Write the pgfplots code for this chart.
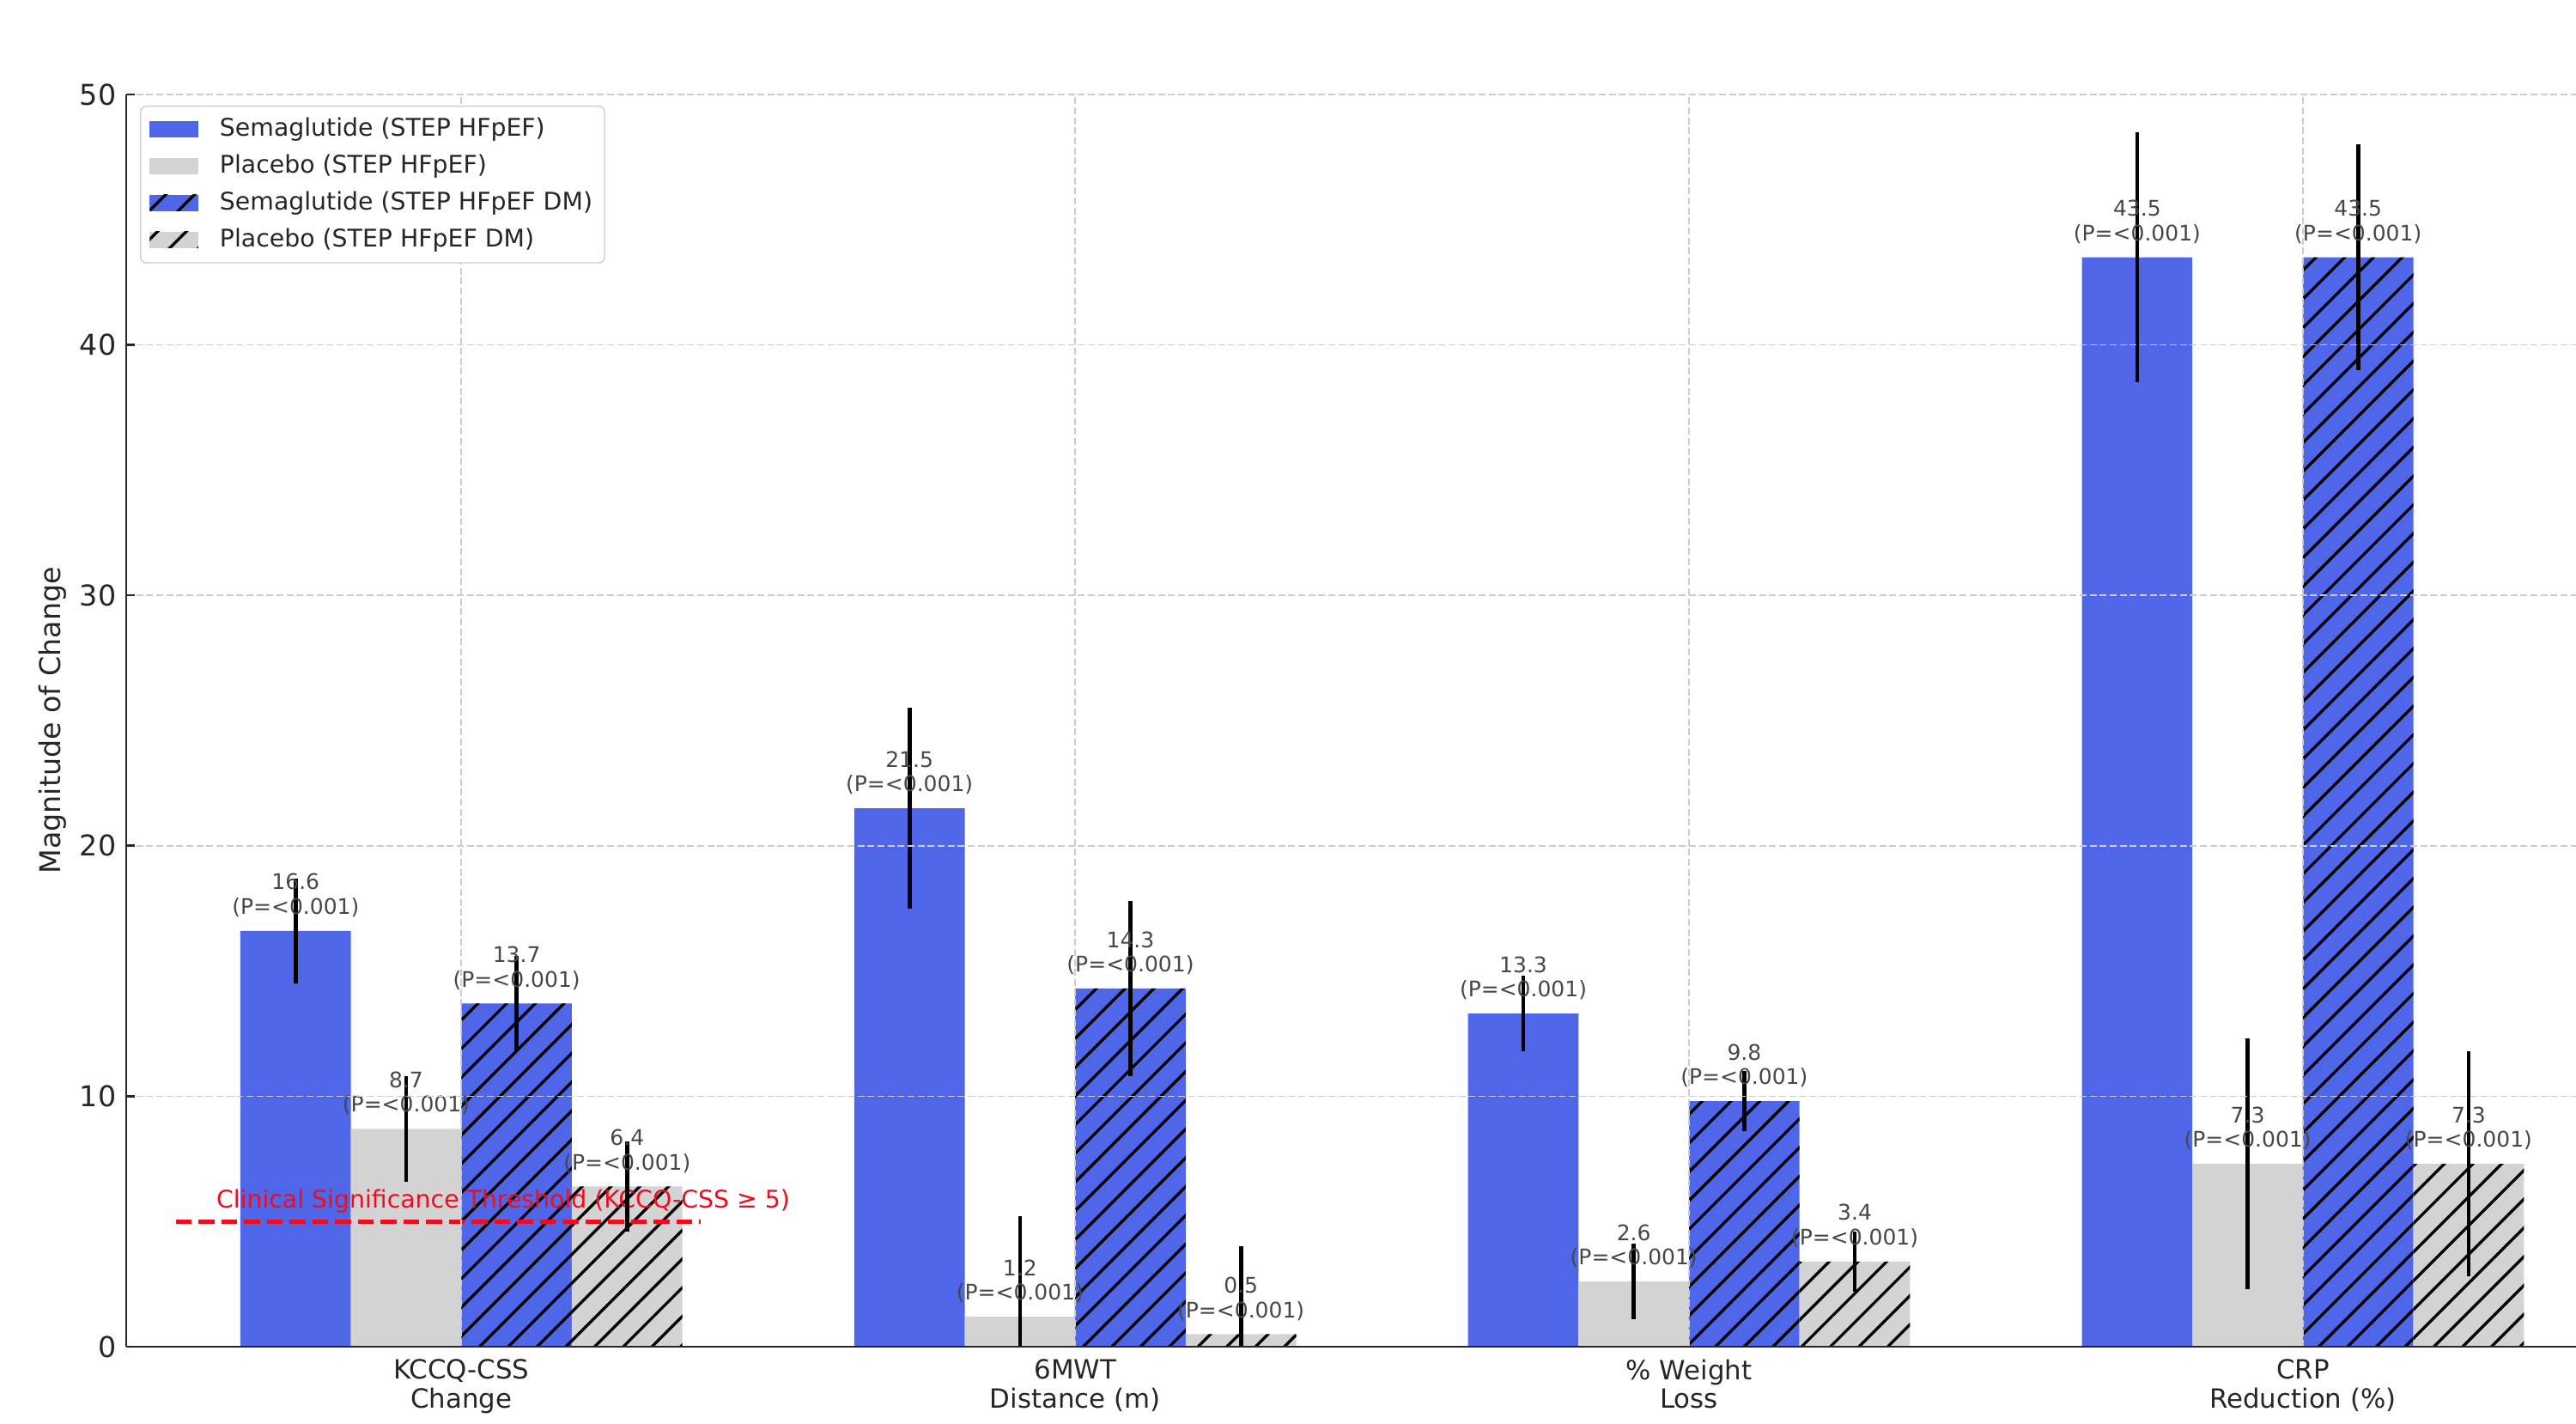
\documentclass[border=0pt]{standalone}
\usepackage{fontspec}
\setmainfont{DejaVu Sans}
\usepackage{pgfplots}
\pgfplotsset{compat=1.18}
\usepackage{pgfplotstable}
\usetikzlibrary{patterns.meta}
\definecolor{semablue}{RGB}{79,102,232}
\definecolor{plgray}{RGB}{211,211,211}
\definecolor{thr}{RGB}{238,12,32}

% x = category index + offset, y = value, e = error half-width
\pgfplotstableread{
x y e
-0.27 16.6 2.1
0.73 21.5 4.0
1.73 13.3 1.5
2.73 43.5 5.0
}\semaA
\pgfplotstableread{
x y e
-0.09 8.7 2.1
0.91 1.2 4.0
1.91 2.6 1.5
2.91 7.3 5.0
}\placA
\pgfplotstableread{
x y e
0.09 13.7 1.9
1.09 14.3 3.5
2.09 9.8 1.2
3.09 43.5 4.5
}\semaB
\pgfplotstableread{
x y e
0.27 6.4 1.8
1.27 0.5 3.5
2.27 3.4 1.2
3.27 7.3 4.5
}\placB

\pgfplotsset{
  mybar/.style={ybar, bar width=0.18, bar shift=0pt, draw=none,
    legend image code/.code={\draw[##1, draw=none, sharp corners] (0pt,-2.9pt) rectangle (17pt,2.9pt);}},
  hatch/.style={postaction={pattern={Lines[angle=45,distance=7.1pt,line width=1pt]}, pattern color=black}},
  nomark/.style={only marks, mark=*, mark size=0pt, mark options={draw=none, fill=none}},
  errs/.style={forget plot, nomark,
    error bars/.cd, y dir=both, y explicit, error mark=none,
    error bar style={draw=black, solid, line width=1.4pt}},
  labs/.style={forget plot, nomark,
    point meta=y,
    nodes near coords={\pgfmathprintnumber[fixed,precision=1]{\pgfplotspointmeta}\\(P=<0.001)},
    every node near coord/.append style={anchor=south, align=center, inner sep=0pt, yshift=4.6pt,
      font=\fontsize{7.5}{8.6}\selectfont, text=black!72}},
}

\begin{document}
\begin{tikzpicture}
\begin{axis}[
  name=ax, at={(0pt,0pt)}, anchor=south west,
  scale only axis, width=855.9pt, height=437.4pt,
  xmin=-0.546, xmax=3.445, ymin=0, ymax=50,
  axis x line*=bottom, axis y line*=left,
  axis line style={-, black!85, line width=0.8pt},
  set layers, axis on top,
  xmajorgrids, ymajorgrids,
  grid style={/pgfplots/on layer=axis background, gray!40, line width=0.5pt, dash pattern=on 2.4pt off 1.1pt},
  xtick={0,1,2,3},
  xticklabels={{KCCQ-CSS\\Change},{6MWT\\Distance (m)},{\% Weight\\Loss},{CRP\\Reduction (\%)}},
  xtick style={draw=none},
  ytick={0,10,20,30,40,50},
  ytick style={black!85, line width=0.8pt},
  tick align=inside, major tick length=3pt,
  /pgf/number format/assume math mode=true,
  yticklabel style={font=\fontsize{10}{12}\selectfont, text=black!85},
  xticklabel style={font=\fontsize{9.25}{10}\selectfont, align=center, text=black!85, yshift=-1pt},
  ylabel={Magnitude of Change},
  ylabel style={at={(axis description cs:-0.0301,0.5)}, anchor=center, font=\fontsize{10}{12}\selectfont, text=black!85},
  legend cell align=left,
  legend style={at={(0,1)}, anchor=north west, xshift=4.8pt, yshift=-3.9pt,
    draw=black!20, rounded corners=2pt, fill=white,
    font=\fontsize{8.5}{10}\selectfont, text=black!85,
    inner xsep=3.2pt, inner ysep=3pt, row sep=2.9pt, column sep=6.5pt,
    nodes={inner sep=1pt, text height=6.5pt, text depth=1.5pt}},
]
\addplot[mybar, fill=semablue] table[x=x,y=y] {\semaA};
\addlegendentry{Semaglutide (STEP HFpEF)}
\addplot[mybar, fill=plgray] table[x=x,y=y] {\placA};
\addlegendentry{Placebo (STEP HFpEF)}
\addplot[mybar, fill=semablue, hatch] table[x=x,y=y] {\semaB};
\addlegendentry{Semaglutide (STEP HFpEF DM)}
\addplot[mybar, fill=plgray, hatch] table[x=x,y=y] {\placB};
\addlegendentry{Placebo (STEP HFpEF DM)}

\addplot[forget plot, thr, line width=1.5pt, dash pattern=on 5.55pt off 2.4pt] coordinates {(-0.465,5) (0.39,5)};
\node[anchor=south west, inner sep=0pt, text=thr, font=\fontsize{8.5}{10}\selectfont] at (axis cs:-0.4,5.3) {Clinical Significance Threshold (KCCQ-CSS ≥ 5)};

\addplot[labs] table[x=x,y=y] {\semaA};
\addplot[labs] table[x=x,y=y] {\placA};
\addplot[labs] table[x=x,y=y] {\semaB};
\addplot[labs] table[x=x,y=y] {\placB};

\addplot[errs] table[x=x,y=y,y error=e] {\semaA};
\addplot[errs] table[x=x,y=y,y error=e] {\placA};
\addplot[errs] table[x=x,y=y,y error=e] {\semaB};
\addplot[errs] table[x=x,y=y,y error=e] {\placB};
\end{axis}
\pgfresetboundingbox
\path[use as bounding box] ([xshift=-44.1pt,yshift=-27pt]ax.south west) rectangle ([yshift=33pt]ax.north east);
\end{tikzpicture}
\end{document}
